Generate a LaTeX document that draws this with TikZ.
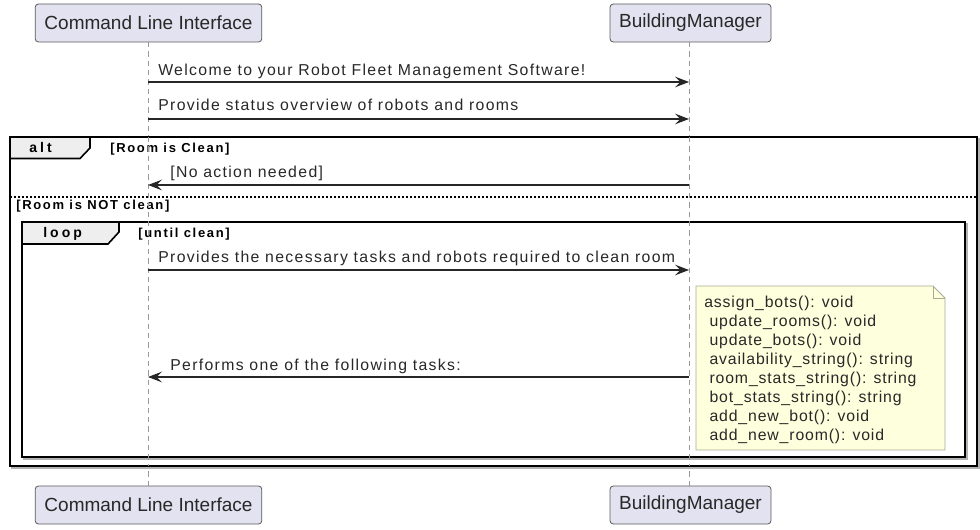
\documentclass[tikz,border=0pt]{standalone}
\usepackage{fontspec}
\setmainfont{Liberation Sans}
\newfontfamily\msgfont[LetterSpace=8.5]{Liberation Sans}
\newfontfamily\notefont[LetterSpace=5.5]{Liberation Sans}
\newfontfamily\grpfont[LetterSpace=13]{Liberation Sans}
\newfontfamily\tabfont[LetterSpace=22]{Liberation Sans}
\usetikzlibrary{arrows.meta}
\definecolor{partfill}{RGB}{226,226,240}
\definecolor{partdraw}{RGB}{90,90,90}
\definecolor{notefill}{RGB}{254,255,221}
\definecolor{notedraw}{RGB}{170,170,150}
\definecolor{tabfill}{RGB}{238,238,238}
\definecolor{txt}{RGB}{40,40,40}
\tikzset{
  part/.style={draw=partdraw, fill=partfill, rounded corners=2.5pt, line width=0.6pt,
    minimum height=28.5pt, inner sep=0pt, font=\fontsize{14.25}{17}\selectfont, text=txt},
  life/.style={draw=gray!80, dash pattern=on 4pt off 3pt, line width=0.6pt},
  msg/.style={draw=black!85, line width=0.8pt, -{Stealth[length=10.5pt,width=8pt,inset=4pt]}},
  msgtext/.style={anchor=base west, inner sep=0pt, font=\msgfont\fontsize{11.85}{14}\selectfont, text=txt},
  grptext/.style={anchor=base west, inner sep=0pt, font=\grpfont\bfseries\fontsize{9.75}{11}\selectfont, text=black},
  tabtext/.style={anchor=base west, inner sep=0pt, font=\tabfont\bfseries\fontsize{10.5}{12}\selectfont, text=black},
  frame/.style={draw=black, line width=1.5pt},
  shadow/.style={draw=gray!60, line width=1.5pt},
}
\begin{document}
\begin{tikzpicture}[x=0.75pt,y=-0.75pt]
\useasboundingbox (0,0) rectangle (980,530);
% participants
\node[part, minimum width=170pt] (cliT) at (148.5,23) {Command Line Interface};
\node[part, minimum width=120.75pt] (bmT) at (690.5,23) {BuildingManager};
\node[part, minimum width=170pt] (cliB) at (148.5,505) {Command Line Interface};
\node[part, minimum width=120.75pt] (bmB) at (690.5,505) {BuildingManager};
\coordinate (cliTop) at (148,42);
\coordinate (cliBot) at (148,486);
\coordinate (bmTop) at (689,42);
\coordinate (bmBot) at (689,486);
\draw[life] (cliTop) -- (cliBot);
\draw[life] (bmTop) -- (bmBot);

% alt frame
\draw[shadow] (12,139) rectangle (979,468);
\draw[frame, fill=white] (10,137) rectangle (977,466);
\draw[line width=1.2pt, fill=tabfill] (10,137) -- (90,137) -- (90,148) -- (80,158.5) -- (10,158.5) -- cycle;
\draw[frame] (10,137) rectangle (977,466);
\node[tabtext] (altlbl) at (29,153) {alt};
\node[grptext] (altc1) at (110,152.5) {[Room is Clean]};
\draw[line width=0.9pt, dash pattern=on 1.5pt off 1.5pt] (10,197) -- (977,197);
\node[grptext] (altc2) at (16,209.5) {[Room is NOT clean]};

% loop frame
\draw[shadow] (24,224) rectangle (967,459);
\draw[frame, fill=white] (22,222) rectangle (965,457);
\draw[line width=1.2pt, fill=tabfill] (22,222) -- (119,222) -- (119,232) -- (108,244) -- (22,244) -- cycle;
\draw[frame] (22,222) rectangle (965,457);
\node[tabtext] (looplbl) at (43,238) {loop};
\node[grptext] (loopc) at (138,237.5) {[until clean]};

% redraw lifelines over frames
\draw[life] (148,137) -- (148,466);
\draw[life] (689,137) -- (689,466);

% messages
\coordinate (a1) at (148,82);  \coordinate (b1) at (689,82);
\draw[msg] (a1) -- (b1);
\node[msgtext] (t1) at (158,76) {Welcome to your Robot Fleet Management Software!};
\coordinate (a2) at (148,119);  \coordinate (b2) at (689,119);
\draw[msg] (a2) -- (b2);
\node[msgtext] (t2) at (158,111) {Provide status overview of robots and rooms};
\coordinate (a3) at (148,185);  \coordinate (b3) at (689,185);
\draw[msg] (b3) -- (a3);
\node[msgtext] (t3) at (170,178) {[No action needed]};
\coordinate (a4) at (148,270);  \coordinate (b4) at (689,270);
\draw[msg] (a4) -- (b4);
\node[msgtext] (t4) at (158,263) {Provides the necessary tasks and robots required to clean room};
\coordinate (a5) at (148,377);  \coordinate (b5) at (689,377);
\draw[msg] (b5) -- (a5);
\node[msgtext] (t5) at (170,370) {Performs one of the following tasks:};

% note
\draw[draw=notedraw, fill=notefill, line width=0.6pt]
  (696,286) -- (933,286) -- (945,298) -- (945,450) -- (696,450) -- cycle;
\draw[draw=notedraw, line width=0.6pt] (933,286) -- (933,298) -- (945,298);
\node[anchor=north west, inner sep=0pt, align=left, font=\notefont\fontsize{11.85}{14.25}\selectfont, text=txt] (note) at (704,295.5)
{assign\_bots(): void\\
\ update\_rooms(): void\\
\ update\_bots(): void\\
\ availability\_string(): string\\
\ room\_stats\_string(): string\\
\ bot\_stats\_string(): string\\
\ add\_new\_bot(): void\\
\ add\_new\_room(): void};
\end{tikzpicture}
\end{document}
